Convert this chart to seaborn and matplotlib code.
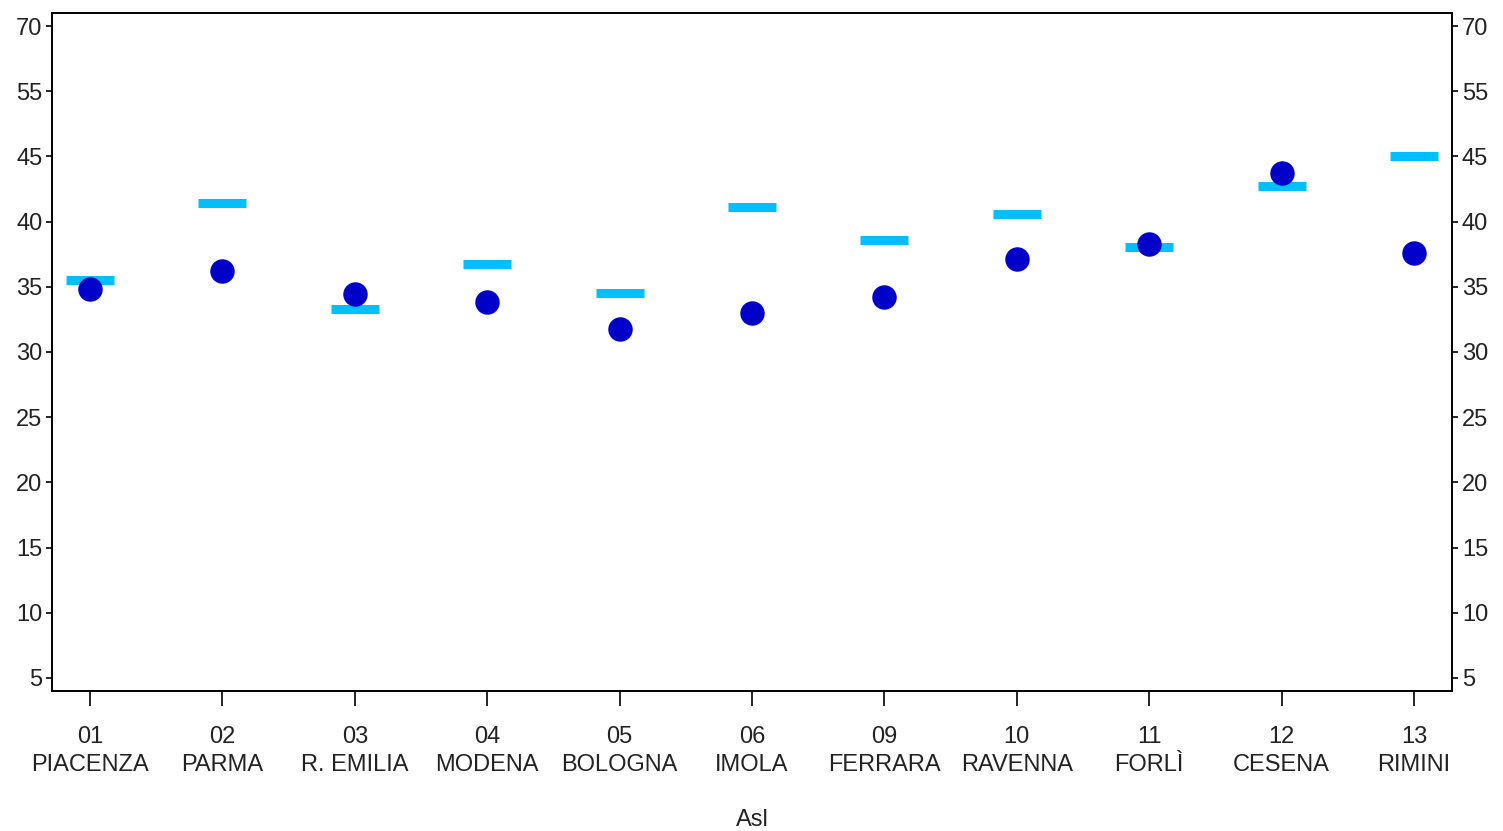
import numpy as np
import pandas as pd
import matplotlib
matplotlib.use("Agg")
import matplotlib.pyplot as plt
import seaborn as sns

# Health districts (code + name) and the two series
codes = ["01", "02", "03", "04", "05", "06", "09", "10", "11", "12", "13"]
names = ["PIACENZA", "PARMA", "R. EMILIA", "MODENA", "BOLOGNA", "IMOLA",
         "FERRARA", "RAVENNA", "FORLÌ", "CESENA", "RIMINI"]
point_values = [34.85, 36.2, 34.45, 33.85, 31.75, 33.0, 34.2, 37.15, 38.3, 43.75, 37.6]
bar_values = [35.5, 41.4, 33.3, 36.75, 34.55, 41.15, 38.6, 40.6, 38.05, 42.7, 45.05]

# Tick values of the y axis (evenly spaced on screen, non-uniform in value)
y_ticks = [5, 10, 15, 20, 25, 30, 35, 40, 45, 55, 70]

labels = [f"{c}\n{n}" for c, n in zip(codes, names)]
df = pd.DataFrame({"Asl": labels, "point": point_values, "bar": bar_values})

sns.set_theme(style="ticks")
plt.rcParams["font.family"] = ["Liberation Sans", "DejaVu Sans"]

# Piecewise-linear y scale: each listed tick gets an equal step
ext_vals = np.array([0] + y_ticks + [85], dtype=float)
ext_idx = np.arange(-1, len(y_ticks) + 1, dtype=float)


def fwd(v):
    return np.interp(v, ext_vals, ext_idx)


def inv(i):
    return np.interp(i, ext_idx, ext_vals)


fig = plt.figure(figsize=(15.03, 8.31), dpi=100)
ax = fig.add_axes([0.0346, 0.1685, 0.9315, 0.8159])
ax.set_yscale("function", functions=(fwd, inv))

sns.scatterplot(data=df, x="Asl", y="bar", marker="_", s=1200, linewidth=6.5,
                color="#00BFFF", ax=ax, zorder=2, legend=False)
sns.scatterplot(data=df, x="Asl", y="point", marker="o", s=310, linewidth=0,
                color="#0000C8", ax=ax, zorder=3, legend=False)

ax.set_ylim(4, 73)
ax.set_xlim(-0.287, len(labels) - 1 + 0.287)
ax.set_yticks(y_ticks)
ax.set_yticklabels([str(t) for t in y_ticks])
ax.yaxis.set_minor_locator(matplotlib.ticker.NullLocator())

text_color = "#222222"
ax.tick_params(axis="y", which="major", left=True, right=True, labelleft=True,
               labelright=True, length=4, width=1.2, pad=3, labelsize=17,
               colors="black", labelcolor=text_color)
ax.tick_params(axis="x", which="major", length=11, width=1.2, pad=14,
               labelsize=17, colors="black", labelcolor=text_color)
for lab in ax.get_xticklabels():
    lab.set_linespacing(1.35)

for sp in ax.spines.values():
    sp.set_visible(True)
    sp.set_linewidth(1.4)
    sp.set_color("black")

ax.set_ylabel("")
ax.set_xlabel("Asl", fontsize=17, color=text_color, labelpad=24)

fig.savefig("out.png", dpi=100)
